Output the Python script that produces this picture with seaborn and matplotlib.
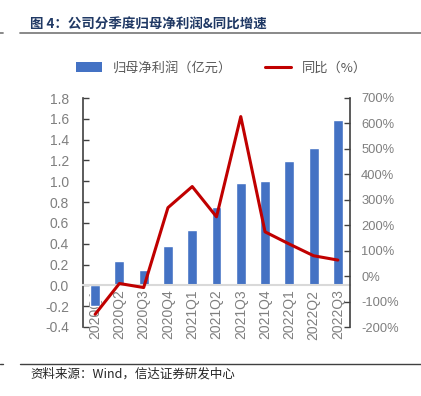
import numpy as np
import pandas as pd
import matplotlib
matplotlib.use('Agg')
import matplotlib.pyplot as plt
import seaborn as sns
from matplotlib.lines import Line2D
from matplotlib.patches import Patch
from matplotlib.ticker import FuncFormatter

# Data
quarters = ['2020Q1', '2020Q2', '2020Q3', '2020Q4', '2021Q1', '2021Q2',
            '2021Q3', '2021Q4', '2022Q1', '2022Q2', '2022Q3']
profit = [-0.20, 0.23, 0.145, 0.375, 0.53, 0.75, 0.98, 1.00, 1.19, 1.32, 1.59]
yoy = [-150, -29, -45, 269, 352, 233, 627, 174, 126, 80, 63]

BAR_COLOR = '#4472C4'
LINE_COLOR = '#C00000'
TICK_GRAY = '#7F7F7F'
SPINE = '#404040'

sns.set_style('white')
plt.rcParams['font.family'] = ['Liberation Sans', 'Noto Sans CJK SC', 'DejaVu Sans']
plt.rcParams['axes.unicode_minus'] = False

df = pd.DataFrame({'quarter': quarters, 'profit': profit, 'yoy': yoy})

fig = plt.figure(figsize=(4.21, 3.96), dpi=100)
ax = fig.add_axes([83 / 421, 1 - 327 / 396, (350 - 83) / 421, (327 - 98) / 396])

sns.barplot(data=df, x='quarter', y='profit', color=BAR_COLOR, saturation=1,
            width=0.41, ax=ax)
ax2 = ax.twinx()
sns.lineplot(x=np.arange(len(quarters)), y=df['yoy'], ax=ax2,
             color=LINE_COLOR, linewidth=2.2)

ax.set_xlim(-0.5, len(quarters) - 0.5)
ax.set_ylim(-0.4, 1.8)
ax.set_yticks(np.round(np.arange(-0.4, 1.81, 0.2), 1))
ax.yaxis.set_major_formatter(FuncFormatter(lambda v, p: f'{v:.1f}'))
ax2.set_ylim(-200, 700)
ax2.set_yticks(np.arange(-200, 701, 100))
ax2.yaxis.set_major_formatter(FuncFormatter(lambda v, p: f'{int(v)}%'))
ax.set_xlabel('')
ax.set_ylabel('')
ax2.set_ylabel('')

# spines
for s in ['top', 'right']:
    ax.spines[s].set_visible(False)
for s in ['top', 'bottom', 'left']:
    ax2.spines[s].set_visible(False)
ax.spines['left'].set_color(SPINE)
ax.spines['left'].set_linewidth(1.2)
ax2.spines['right'].set_color(SPINE)
ax2.spines['right'].set_linewidth(1.2)
ax.spines['bottom'].set_position(('data', 0))
ax.spines['bottom'].set_color('#D9D9D9')
ax.spines['bottom'].set_linewidth(1.5)

ax.tick_params(axis='y', direction='in', length=4, width=1, color=SPINE,
               labelcolor=TICK_GRAY, labelsize=10, pad=10)
ax2.tick_params(axis='y', direction='in', length=4, width=1, color=SPINE,
                labelcolor=TICK_GRAY, labelsize=9.3, pad=8)
ax.tick_params(axis='x', length=0, labelcolor=TICK_GRAY, labelsize=10, pad=3)
for lbl in ax.get_xticklabels():
    lbl.set_rotation(90)

# legend
handles = [Patch(facecolor=BAR_COLOR, edgecolor='none'),
           Line2D([0], [0], color=LINE_COLOR, linewidth=2.2)]
labels = ['归母净利润（亿元）', '同比（%）']
fig.legend(handles, labels, loc='center', bbox_to_anchor=(0.526, 1 - 68 / 396),
           ncol=2, frameon=False, handlelength=2.0, columnspacing=2.5,
           prop={'family': 'Noto Sans CJK SC', 'size': 9.5}, labelcolor='#595959')

# title and source
fig.text(30 / 421, 1 - 25 / 396, '图 4：公司分季度归母净利润&同比增速',
         family=['Noto Sans CJK SC', 'DejaVu Sans'], fontsize=9.7,
         fontweight='bold', color='#1F3864', va='center', ha='left')
fig.add_artist(Line2D([20 / 421, 1], [1 - 33 / 396] * 2, color='#808080', linewidth=1.3))
fig.add_artist(Line2D([0, 3 / 421], [1 - 33 / 396] * 2, color='#808080', linewidth=1.3))
fig.add_artist(Line2D([20 / 421, 1], [1 - 364 / 396] * 2, color='#404040', linewidth=1.0))
fig.add_artist(Line2D([0, 3 / 421], [1 - 364 / 396] * 2, color='#404040', linewidth=1.0))
fig.text(30 / 421, 1 - 374 / 396, '资料来源：Wind，信达证券研发中心',
         family=['Noto Sans CJK SC', 'DejaVu Sans'], fontsize=9,
         color='#262626', va='center', ha='left')

fig.savefig('out.png', dpi=100)
